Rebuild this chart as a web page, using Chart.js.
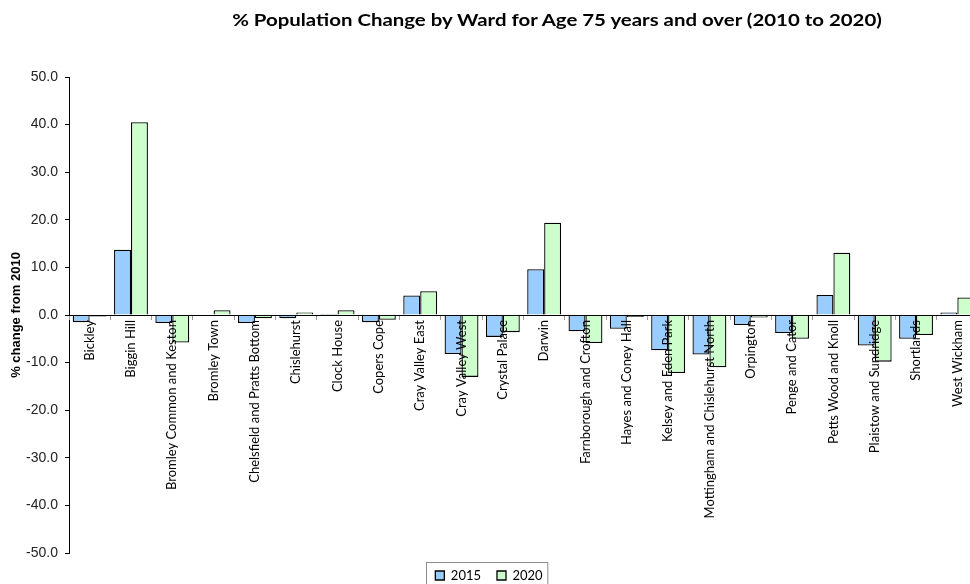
<!DOCTYPE html>
<html lang="en">
<head>
    <meta charset="UTF-8">
    <title>% Population Change by Ward - Age 75+</title>
    <script src="https://cdn.jsdelivr.net/npm/chart.js"></script>
    <style>
        body {
            margin: 0;
            overflow: hidden;
            background: #fff;
        }
        .wrap {
            position: relative;
            width: 970px;
            height: 584px;
            overflow: hidden;
        }
        #titulo {
            position: absolute;
            top: 9px;
            left: 557px;
            transform: translateX(-50%) scaleX(1.2);
            white-space: nowrap;
            font: bold 17px Lato, sans-serif;
            color: #000;
        }
        #grafico {
            position: absolute;
            left: 0;
            top: 0;
        }
    </style>
</head>
<body>
    <div class="wrap">
        <canvas id="grafico" width="980" height="594"></canvas>
        <div id="titulo">% Population Change by Ward for Age 75 years and over (2010 to 2020)</div>
    </div>
    <script>
        const wards = [
            'Bickley', 'Biggin Hill', 'Bromley Common and Keston', 'Bromley Town',
            'Chelsfield and Pratts Bottom', 'Chislehurst', 'Clock House', 'Copers Cope',
            'Cray Valley East', 'Cray Valley West', 'Crystal Palace', 'Darwin',
            'Farnborough and Crofton', 'Hayes and Coney Hall', 'Kelsey and Eden Park',
            'Mottingham and Chislehurst North', 'Orpington', 'Penge and Cator',
            'Petts Wood and Knoll', 'Plaistow and Sundridge', 'Shortlands', 'West Wickham'
        ];
        const change2015 = [-1.5, 13.7, -1.7, -0.1, -1.7, -0.7, 0.2, -1.5, 4.1, -8.2, -4.6, 9.6,
            -3.4, -2.9, -7.4, -8.3, -2.1, -3.8, 4.2, -6.4, -5.0, 0.5];
        const change2020 = [-0.3, 40.5, -5.8, 1.0, -0.7, 0.5, 1.0, -1.0, 5.0, -13.0, -3.6, 19.4,
            -5.9, -0.4, -12.2, -11.0, -0.5, -5.0, 13.1, -9.8, -4.2, 3.7];
        const yMin = -50;
        const yMax = 50;
        const yStep = 10;

        // thin grey frame around the legend items
        const legendBorder = {
            id: 'legendBorder',
            afterDraw(chart) {
                const boxes = chart.legend && chart.legend.legendHitBoxes;
                if (!boxes || !boxes.length) return;
                const left = Math.min(...boxes.map(b => b.left)) - 9;
                const right = Math.max(...boxes.map(b => b.left + b.width)) + 5;
                const top = boxes[0].top - 7;
                const bottom = boxes[0].top + boxes[0].height + 8;
                const ctx = chart.ctx;
                ctx.save();
                ctx.strokeStyle = '#8c8c8c';
                ctx.lineWidth = 1;
                ctx.strokeRect(Math.round(left) + 0.5, Math.round(top) + 0.5, right - left, bottom - top);
                ctx.restore();
            }
        };

        const ctx = document.getElementById('grafico').getContext('2d');
        new Chart(ctx, {
            type: 'bar',
            data: {
                labels: wards,
                datasets: [
                    {
                        label: '2015',
                        data: change2015,
                        backgroundColor: '#99CCFF',
                        borderColor: '#000',
                        borderWidth: 1.3,
                        categoryPercentage: 0.82,
                        barPercentage: 1.0
                    },
                    {
                        label: '2020',
                        data: change2020,
                        backgroundColor: '#CCFFCC',
                        borderColor: '#000',
                        borderWidth: 1.3,
                        categoryPercentage: 0.82,
                        barPercentage: 1.0
                    }
                ]
            },
            options: {
                responsive: false,
                animation: false,
                layout: {
                    padding: { top: 77, right: 2, bottom: 2, left: 0 }
                },
                plugins: {
                    title: { display: false },
                    tooltip: { enabled: false },
                    legend: {
                        position: 'bottom',
                        labels: {
                            boxWidth: 9,
                            boxHeight: 9,
                            padding: 16,
                            color: '#000',
                            font: { family: 'Lato', size: 13 }
                        }
                    }
                },
                scales: {
                    x: {
                        // category labels hang from the zero line
                        position: { y: 0 },
                        offset: true,
                        grid: {
                            offset: true,
                            drawOnChartArea: false,
                            tickLength: 4,
                            color: '#9a9a9a',
                            z: 1
                        },
                        border: { color: '#000', width: 1, z: 1 },
                        ticks: {
                            autoSkip: false,
                            minRotation: 90,
                            maxRotation: 90,
                            padding: 1,
                            color: '#000',
                            font: { family: 'Lato', size: 13 },
                            z: 1
                        }
                    },
                    y: {
                        min: yMin,
                        max: yMax,
                        grid: {
                            drawOnChartArea: false,
                            tickLength: 4,
                            color: '#000'
                        },
                        border: { color: '#000', width: 1 },
                        ticks: {
                            stepSize: yStep,
                            padding: 7,
                            color: '#222',
                            font: { family: 'Liberation Sans', size: 14 },
                            callback: (v) => v.toFixed(1)
                        },
                        title: {
                            display: true,
                            text: '% change from 2010',
                            color: '#000',
                            font: { family: 'Liberation Sans', size: 13, weight: 'bold' },
                            padding: { top: 9, bottom: 0 }
                        },
                        afterFit: (axis) => { axis.width = 69; }
                    }
                }
            },
            plugins: [legendBorder]
        });
    </script>
</body>
</html>
